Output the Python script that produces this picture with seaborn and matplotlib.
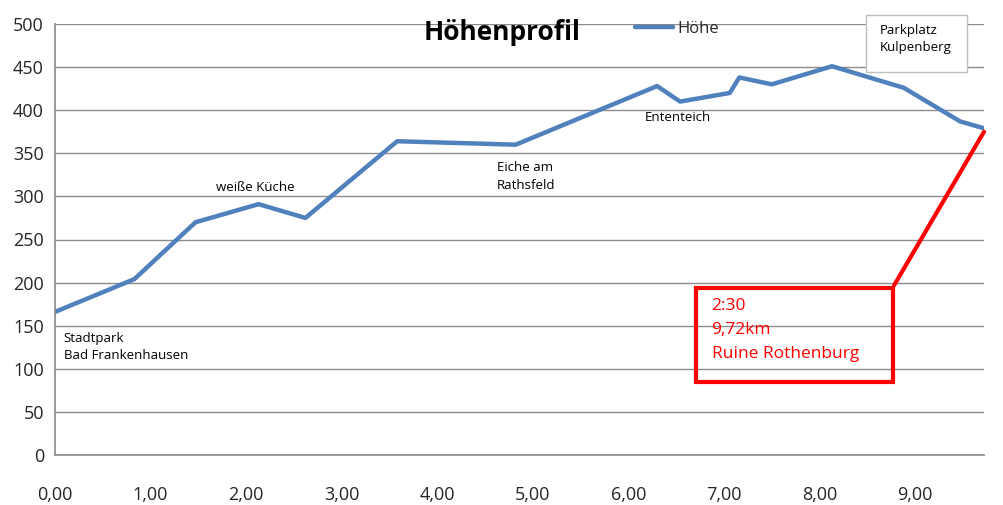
import matplotlib
matplotlib.use("Agg")
import matplotlib.pyplot as plt
import seaborn as sns
import pandas as pd
from matplotlib.patches import Rectangle

# data
km = [0.00, 0.83, 1.47, 2.13, 2.62, 3.58, 4.82, 6.30, 6.54, 7.06, 7.16, 7.50, 8.13, 8.88, 9.47, 9.72]
hoehe = [166, 204, 270, 291, 275, 364, 360, 428, 410, 420, 438, 430, 451, 426, 387, 379]
x_ticks = [0, 1, 2, 3, 4, 5, 6, 7, 8, 9]
y_ticks = [0, 50, 100, 150, 200, 250, 300, 350, 400, 450, 500]

df = pd.DataFrame({"km": km, "Höhe": hoehe})

sns.set_theme(style="white")
plt.rcParams['font.family'] = ['Open Sans', 'DejaVu Sans']

fig = plt.figure(figsize=(10.04, 5.05), dpi=100)
ax = fig.add_axes([55/1004, 1-455/505, (984-55)/1004, (455-24)/505])

sns.lineplot(data=df, x="km", y="Höhe", ax=ax, color="#4F81BD", linewidth=3.2,
             label="Höhe", legend=False)

ax.set_xlim(0, 9.72)
ax.set_ylim(0, 500)
ax.set_xticks(x_ticks)
ax.set_xticklabels([f"{v:.2f}".replace(".", ",") for v in x_ticks], fontsize=13)
ax.set_yticks(y_ticks)
ax.set_yticklabels([str(v) for v in y_ticks], fontsize=13)
ax.set_xlabel("")
ax.set_ylabel("")
ax.yaxis.grid(True, color="#8c8c8c", linewidth=1)
ax.xaxis.grid(False)
for s in ["top", "right"]:
    ax.spines[s].set_visible(False)
ax.spines["left"].set_color("#8c8c8c")
ax.spines["bottom"].set_color("#8c8c8c")
ax.tick_params(axis="x", direction="out", length=5, color="#8c8c8c", pad=17)
ax.tick_params(axis="y", direction="out", length=5, color="#8c8c8c", pad=3)

# title
fig.text(502/1004, 1-32/505, "Höhenprofil", ha="center", va="center",
         fontsize=19, fontweight="bold", color="black")

# legend
leg = ax.legend(loc="upper left", bbox_to_anchor=(620/1004, 1-6/505),
                bbox_transform=fig.transFigure, frameon=False, fontsize=12,
                handlelength=2.3, handletextpad=0.25)

# annotations
ann = dict(fontsize=9.5, color="black")
ax.text(0.09, 143, "Stadtpark\nBad Frankenhausen", va="top", ha="left", linespacing=1.45, **ann)
ax.text(1.68, 318, "weiße Küche", va="top", ha="left", **ann)
ax.text(4.62, 341, "Eiche am\nRathsfeld", va="top", ha="left", linespacing=1.45, **ann)
ax.text(6.17, 399, "Ententeich", va="top", ha="left", **ann)
ax.add_patch(Rectangle((8.485, 444), 1.055, 66, fill=True, fc="white", ec="#bfbfbf",
                       lw=1, clip_on=False, zorder=4))
ax.text(8.63, 500, "Parkplatz\nKulpenberg", va="top", ha="left", linespacing=1.45,
        zorder=5, clip_on=False, **ann)

# red callout
ax.plot([9.72, 8.78], [375, 197], color="red", linewidth=3, clip_on=False)
ax.add_patch(Rectangle((6.71, 85), 2.06, 109, fill=False, ec="red", lw=3, zorder=5))
ax.text(6.87, 182, "2:30\n9,72km\nRuine Rothenburg", va="top", ha="left",
        color="red", fontsize=12.5, linespacing=1.68)

fig.savefig("out.png", dpi=100)
